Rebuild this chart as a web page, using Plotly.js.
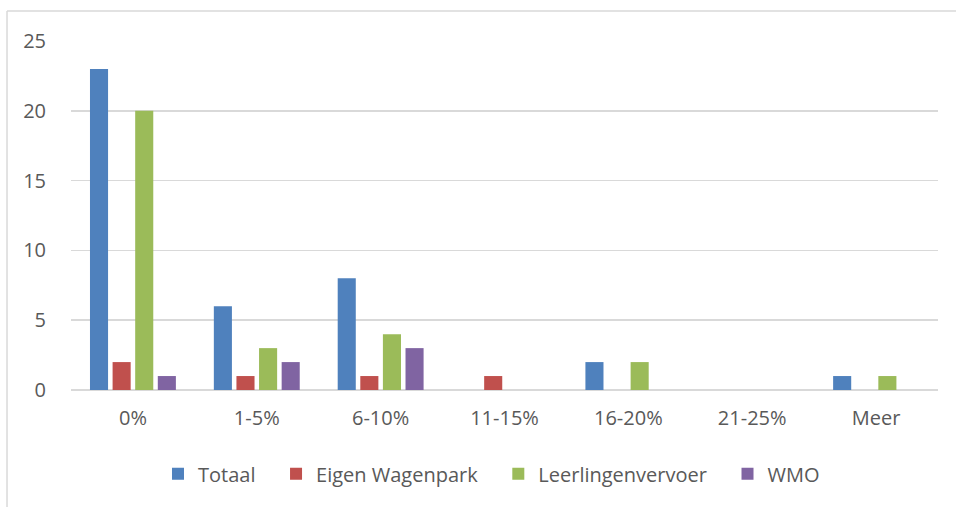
<!DOCTYPE html>
<html>
<head>
<meta charset="utf-8">
<script src="https://cdn.plot.ly/plotly-3.0.1.min.js"></script>
<style>
html,body{margin:0;padding:0;background:#fff;}
#chart{width:956px;height:507px;}
</style>
</head>
<body>
<div id="chart"></div>
<script>
const categories = ["0%", "1-5%", "6-10%", "11-15%", "16-20%", "21-25%", "Meer"];
const totaal = [23, 6, 8, 0, 2, 0, 1];
const eigenWagenpark = [2, 1, 1, 1, 0, 0, 0];
const leerlingenvervoer = [20, 3, 4, 0, 2, 0, 1];
const wmo = [1, 2, 3, 0, 0, 0, 0];
const seriesNames = ["Totaal", "Eigen Wagenpark", "Leerlingenvervoer", "WMO"];
const yTicks = [0, 5, 10, 15, 20, 25];

const colors = ["#4F81BD", "#C0504D", "#9BBB59", "#8064A2"];
const allSeries = [totaal, eigenWagenpark, leerlingenvervoer, wmo];
const pad = "\u00a0\u00a0\u00a0";

const data = allSeries.map((vals, i) => ({
  type: "bar",
  name: seriesNames[i] + (i < allSeries.length - 1 ? pad : ""),
  x: categories,
  y: vals,
  marker: {color: colors[i], line: {width: 0}},
  hoverinfo: "x+y+name"
}));

const font = {family: "Open Sans, Liberation Sans, sans-serif", size: 20, color: "#595959"};

const layout = {
  width: 956, height: 507,
  margin: {l: 71, r: 18, t: 41, b: 117},
  paper_bgcolor: "#ffffff",
  plot_bgcolor: "#ffffff",
  font: font,
  barmode: "group",
  bargap: 0.27,
  bargroupgap: 0.2,
  showlegend: true,
  legend: {
    orientation: "h", x: 0.485, xanchor: "center", y: -0.24, yanchor: "middle",
    font: font, itemwidth: 30, traceorder: "normal"
  },
  xaxis: {
    type: "category",
    tickfont: font,
    showgrid: false,
    showline: false,
    zeroline: false,
    ticks: "outside", ticklen: 10, tickcolor: "rgba(0,0,0,0)",
    fixedrange: true
  },
  yaxis: {
    range: [0, 25],
    tickvals: yTicks,
    ticktext: yTicks.map(String),
    tickfont: font,
    showgrid: true,
    gridcolor: "#d9d9d9",
    gridwidth: 1.5,
    zeroline: true,
    zerolinecolor: "#d9d9d9",
    zerolinewidth: 2,
    showline: false,
    ticks: "outside", ticklen: 20, tickcolor: "rgba(0,0,0,0)",
    fixedrange: true
  },
  shapes: [
    {type: "line", xref: "paper", yref: "paper", x0: -0.0738, x1: 1.05, y0: 1.086, y1: 1.086,
     line: {color: "#d9d9d9", width: 1.5}},
    {type: "line", xref: "paper", yref: "paper", x0: -0.0738, x1: -0.0738, y0: 1.086, y1: -0.4,
     line: {color: "#d9d9d9", width: 1.5}}
  ]
};

Plotly.newPlot("chart", data, layout, {displayModeBar: false, staticPlot: true});
</script>
</body>
</html>
